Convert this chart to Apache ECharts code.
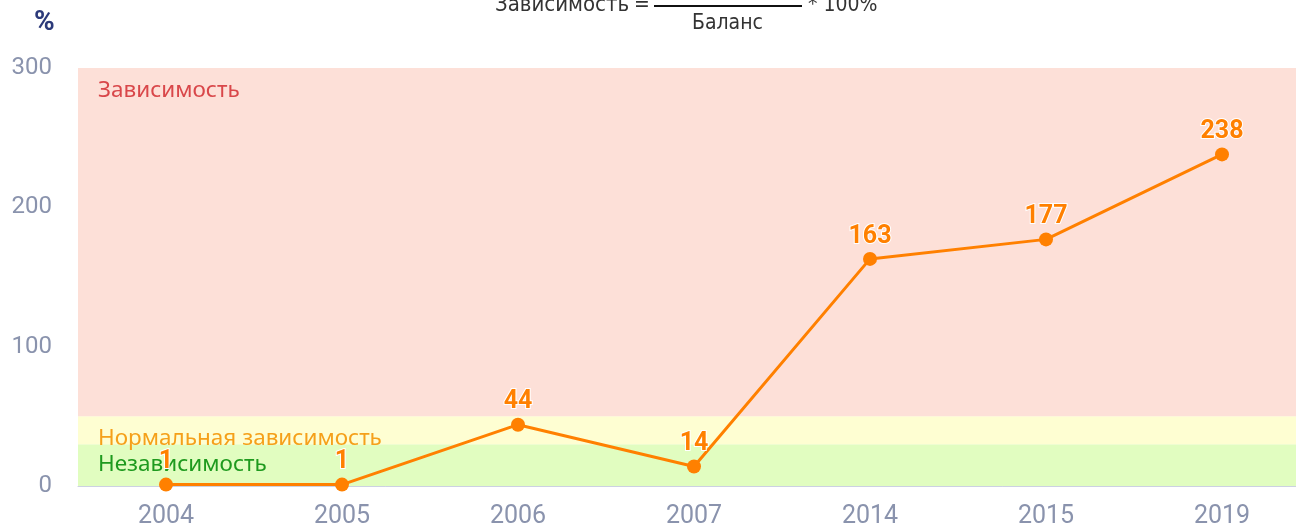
<!DOCTYPE html>
<html><head><meta charset="utf-8">
<script src="https://cdn.jsdelivr.net/npm/echarts@6/dist/echarts.min.js"></script>
<style>html,body{margin:0;padding:0;background:#fff;overflow:hidden}#c{width:1310px;height:529px}</style>
</head><body><div id="c"></div>
<script>
var categories = ['2004','2005','2006','2007','2014','2015','2019'];
var values = [1, 1, 44, 14, 163, 177, 238];
var yTicks = [0, 100, 200, 300];
var zones = [
  {name: 'Независимость', from: 0, to: 30},
  {name: 'Нормальная зависимость', from: 30, to: 50},
  {name: 'Зависимость', from: 50, to: 300}
];
var zoneColors = ['#e1fdc0', '#fefed2', '#fde0d8'];
var zoneTextColors = ['#1e9a1e', '#f5a01a', '#d9474a'];
var zoneOffsets = [[15, 4], [15, 6], [15, 6]];

var chart = echarts.init(document.getElementById('c'));
var areas = zones.map(function (z, i) {
  return [{
    yAxis: z.from,
    itemStyle: {color: zoneColors[i]},
    label: {
      show: true, formatter: z.name, position: 'insideTopLeft',
      color: zoneTextColors[i], fontSize: 22.5, fontFamily: 'Noto Sans',
      offset: zoneOffsets[i]
    }
  }, {yAxis: z.to}];
});
var tfam = '"Liberation Sans Narrow", "DejaVu Sans Condensed"';
function t(x, y, s, size) {
  return {type: 'text', left: x, top: y, style: {text: s, fill: '#333', fontSize: size, fontFamily: tfam}};
}
chart.setOption({
  animation: false,
  grid: {left: 78, top: 68, right: 0, height: 419, containLabel: false},
  graphic: [
    {type: 'text', left: 34, top: 9, style: {text: '%', fill: '#2c3a7a', fontSize: 28, fontWeight: 'bold', fontFamily: 'Roboto'}},
    t(495, -6, 'Зависимость', 22),
    t(634, -5, '=', 21),
    {type: 'rect', shape: {x: 654, y: 5, width: 148, height: 2}, style: {fill: '#111'}},
    t(808, -5, '* 100%', 21),
    t(692, 13, 'Баланс', 21)
  ],
  xAxis: {
    type: 'category', data: categories, boundaryGap: true,
    axisLine: {lineStyle: {color: '#ccd1e2', width: 1}},
    axisTick: {show: false},
    axisLabel: {color: '#8a93ad', fontSize: 25, fontFamily: 'Roboto', margin: 18}
  },
  yAxis: {
    type: 'value', min: yTicks[0], max: yTicks[yTicks.length - 1], interval: 100,
    axisLine: {show: false}, axisTick: {show: false},
    axisLabel: {color: '#8a93ad', fontSize: 24, fontFamily: 'Roboto', margin: 26},
    splitLine: {lineStyle: {color: '#e6e7ee', width: 1}}
  },
  series: [{
    type: 'line', data: values, z: 5,
    lineStyle: {color: '#ff8000', width: 3},
    itemStyle: {color: '#ff8000'},
    symbol: 'circle', symbolSize: 14,
    label: {
      show: true, position: 'top', distance: 3, color: '#ff8000',
      fontSize: 25, fontWeight: 'bold', fontFamily: 'Roboto',
      textBorderColor: '#fff', textBorderWidth: 2
    },
    markArea: {silent: true, data: areas, z: 1}
  }]
});
</script></body></html>
